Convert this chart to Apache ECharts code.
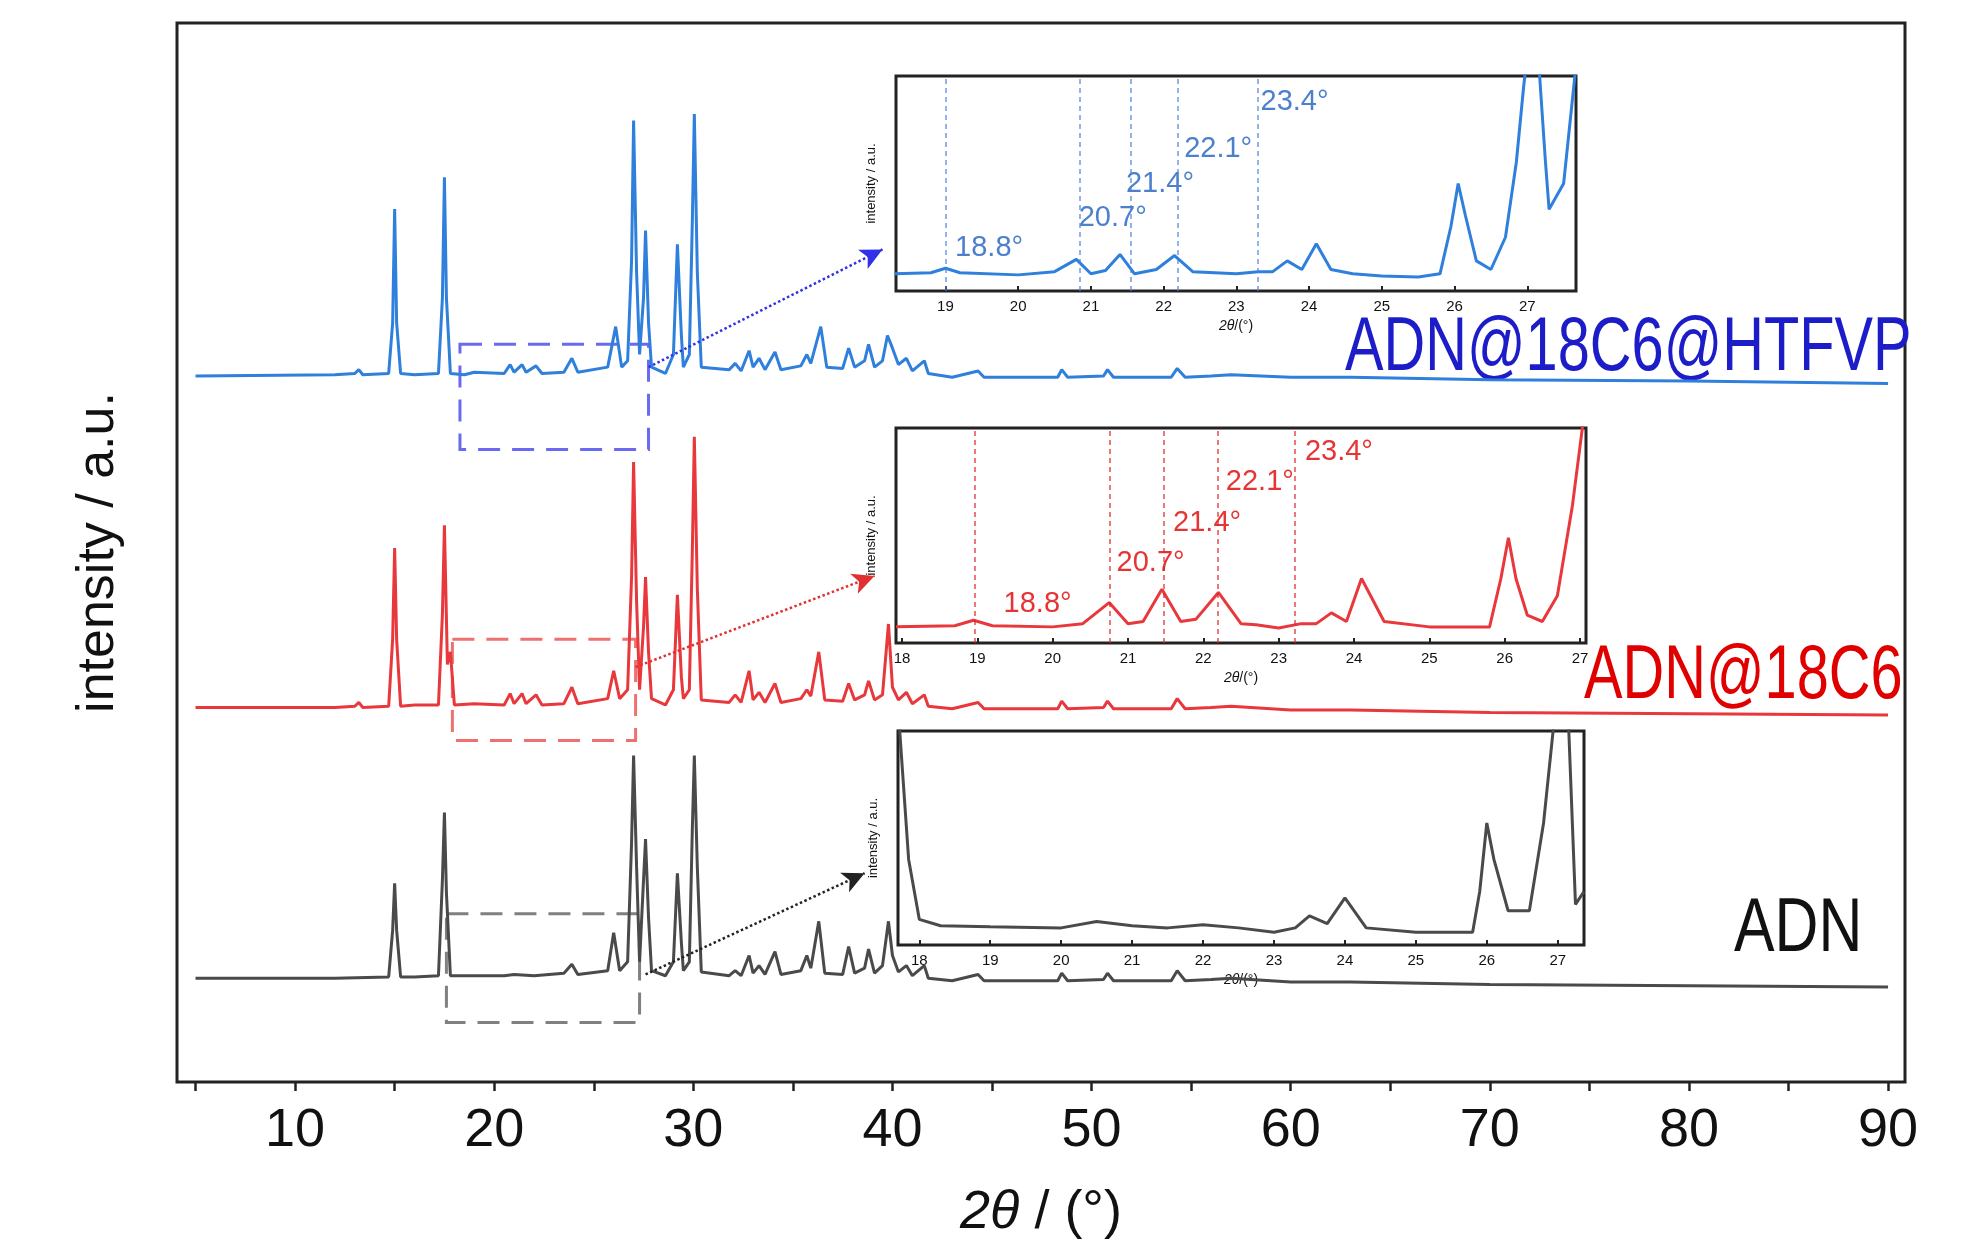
<!DOCTYPE html>
<html><head><meta charset="utf-8">
<script src="https://cdn.jsdelivr.net/npm/echarts@6/dist/echarts.min.js"></script>
<style>html,body{margin:0;padding:0;background:#fff}#c{width:1984px;height:1252px}</style>
</head><body><div id="c"></div>
<script>
const mainTicks = [10,20,30,40,50,60,70,80,90];
const mainMinor = [5,10,15,20,25,30,35,40,45,50,55,60,65,70,75,80,85,90];
const insetTicksA = [19,20,21,22,23,24,25,26,27];
const insetTicksB = [18,19,20,21,22,23,24,25,26,27];

const blue = [[5,558],[12,559],[13,560],[13.2,563],[13.4,559],[14.7,560],[14.9,600],[15.0,690],[15.1,600],[15.3,560],[16,559],[17.2,560],[17.4,620],[17.5,715],[17.6,620],[17.8,560],[18.5,559],[19,561],[20.5,560],[20.8,567],[21.0,561],[21.4,567],[21.6,561],[22.1,566],[22.4,560],[23.5,561],[23.9,572],[24.2,561],[25.7,565],[26.1,597],[26.4,565],[26.7,570],[26.9,650],[27.0,760],[27.15,640],[27.3,575],[27.5,620],[27.6,673],[27.75,600],[27.9,565],[28.6,560],[29.0,575],[29.2,662],[29.4,590],[29.5,565],[29.8,575],[29.95,680],[30.05,765],[30.2,640],[30.4,565],[31.8,563],[32.1,568],[32.4,562],[32.8,578],[33.0,565],[33.3,572],[33.6,563],[34.1,577],[34.4,563],[35.4,566],[35.7,575],[35.9,568],[36.4,597],[36.7,565],[37.5,564],[37.8,580],[38.1,565],[38.6,570],[38.8,583],[39.1,565],[39.5,570],[39.75,590],[40.0,580],[40.3,567],[40.7,572],[41,562],[41.6,570],[41.8,560],[43,557],[44.3,562],[44.6,557],[48.3,557],[48.5,563],[48.8,557],[50.6,558],[50.8,563],[51.1,557],[54,557],[54.3,564],[54.7,557],[56,558],[57,559],[60,557],[63,557],[70,555],[80,554],[90,552]];
const red = [[5,296],[12,296],[13,297],[13.2,300],[13.4,296],[14.7,297],[14.9,350],[15.0,422],[15.1,350],[15.3,297],[16,298],[17.2,298],[17.4,370],[17.5,440],[17.65,330],[17.8,340],[18.0,298],[19,299],[20.5,298],[20.8,307],[21.0,299],[21.4,307],[21.6,299],[22.1,306],[22.4,298],[23.5,299],[23.9,312],[24.2,299],[25.7,303],[26.0,325],[26.3,303],[26.7,310],[26.9,400],[27.0,490],[27.15,380],[27.3,310],[27.5,360],[27.6,399],[27.75,340],[27.9,303],[28.6,298],[29.0,310],[29.2,385],[29.4,320],[29.5,303],[29.8,310],[29.95,420],[30.05,510],[30.2,390],[30.4,302],[31.8,300],[32.1,306],[32.4,300],[32.8,325],[33.0,302],[33.3,308],[33.6,300],[34.1,315],[34.4,300],[35.4,303],[35.7,310],[35.9,305],[36.3,340],[36.6,302],[37.5,301],[37.8,315],[38.1,302],[38.6,306],[38.8,317],[39.1,302],[39.5,306],[39.8,362],[40.0,312],[40.3,302],[40.7,308],[41,299],[41.6,306],[41.8,297],[43,295],[44.3,300],[44.6,295],[48.3,295],[48.5,301],[48.8,295],[50.6,296],[50.8,301],[51.1,295],[54,295],[54.3,303],[54.7,295],[56,296],[57,297],[60,294],[63,294],[70,292],[80,291],[90,290]];
const black = [[5,82],[12,82],[14.7,83],[14.9,120],[15.0,157],[15.1,120],[15.3,83],[16,83],[17.2,84],[17.4,160],[17.5,213],[17.6,150],[17.8,84],[19,84],[20.5,84],[21,85],[22,84],[23.5,86],[23.9,93],[24.2,85],[25.7,88],[26.0,118],[26.3,88],[26.7,95],[26.9,190],[27.0,258],[27.15,170],[27.3,95],[27.5,160],[27.6,192],[27.75,130],[27.9,88],[28.6,84],[29.0,95],[29.2,165],[29.4,110],[29.5,88],[29.8,95],[29.95,200],[30.05,258],[30.2,170],[30.4,87],[31.8,84],[32.1,88],[32.4,84],[32.8,100],[33.0,86],[33.3,92],[33.6,85],[34.1,103],[34.4,85],[35.4,88],[35.7,100],[35.9,90],[36.3,127],[36.6,86],[37.5,85],[37.8,107],[38.1,86],[38.6,90],[38.8,105],[39.1,86],[39.5,92],[39.8,127],[40.0,100],[40.3,87],[40.7,92],[41,84],[41.6,92],[41.8,82],[43,80],[44.3,85],[44.6,80],[48.3,80],[48.5,86],[48.8,80],[50.6,81],[50.8,86],[51.1,80],[54,80],[54.3,88],[54.7,80],[56,81],[57,82],[60,79],[63,79],[70,77],[80,76],[90,75]];

const insetBlue = [[18.3,8],[18.8,8.5],[19.0,10.6],[19.2,8.5],[20,7.5],[20.5,9],[20.8,14.7],[21.0,8],[21.2,9.5],[21.4,17],[21.6,8],[21.9,10],[22.15,16.5],[22.4,9],[22.7,8.5],[23.0,8],[23.3,9],[23.5,9],[23.7,14],[23.9,10],[24.1,22],[24.3,10],[24.6,8],[25,7],[25.5,6.5],[25.8,8],[25.95,30],[26.05,50],[26.15,35],[26.3,14],[26.5,10],[26.7,25],[26.85,60],[26.95,95],[27.0,110],[27.15,110],[27.25,60],[27.3,38],[27.5,50],[27.67,105]];
const insetRed = [[17.92,7.6],[18.7,8],[18.95,10.6],[19.2,8],[20,7.5],[20.4,9],[20.75,18.8],[21.0,9],[21.2,10],[21.45,25],[21.7,10],[21.9,11],[22.2,23.5],[22.5,9],[22.7,8.5],[23.0,7],[23.3,9],[23.5,9],[23.7,14],[23.9,10],[24.1,30],[24.4,10],[25,7.5],[25.8,7.5],[25.95,30],[26.05,49],[26.15,30],[26.3,13],[26.5,10],[26.7,22],[26.9,64],[27.05,105]];
const insetBlack = [[17.72,102],[17.85,40],[18.0,12],[18.3,9],[19,8.5],[20,8],[20.5,11],[21,9],[21.5,8],[22,9.5],[22.5,8],[23,6],[23.3,8],[23.5,13.6],[23.75,10],[24.0,22],[24.3,8],[25,6],[25.8,6],[25.9,25],[26.0,57],[26.1,40],[26.3,16],[26.6,16],[26.8,57],[26.95,105],[27.15,105],[27.25,19],[27.37,25]];

const vlinesBlue = [19.0,20.85,21.55,22.2,23.3];
const vlinesRed = [18.96,20.76,21.48,22.19,23.21];
const peakLabels = ['18.8°','20.7°','21.4°','22.1°','23.4°'];
const labelPosBlue = [[19.6,20],[21.3,34],[21.95,50],[22.75,66],[23.8,88]];
const labelPosRed = [[19.8,18],[21.3,37],[22.05,56],[22.75,75],[23.8,89]];

const F = '"Liberation Sans",Arial,sans-serif';
const cB='#2f7fdc', cR='#e8383c', cK='#4a4a4a';

const chart = echarts.init(document.getElementById('c'));

function insetAxes(idx,min,max,ticks){
  return {
    x:{type:'value',gridIndex:idx,min:min,max:max,
      axisLine:{show:false},splitLine:{show:false},
      axisTick:{show:true,inside:true,length:5,customValues:ticks,lineStyle:{color:'#222',width:2}},
      axisLabel:{customValues:ticks,fontFamily:F,fontSize:15,color:'#111',margin:8},
      name:'{i|2θ}/(°)',nameLocation:'middle',nameGap:28,
      nameTextStyle:{fontFamily:F,fontSize:14,color:'#111',rich:{i:{fontStyle:'italic',fontFamily:F,fontSize:14}}}},
    y:{type:'value',gridIndex:idx,min:0,max:100,axisLine:{show:false},axisTick:{show:false},axisLabel:{show:false},splitLine:{show:false},
      name:'intensity / a.u.',nameLocation:'middle',nameGap:18,nameTextStyle:{fontFamily:F,fontSize:13,color:'#111'}}
  };
}
const a1=insetAxes(1,18.32,27.67,insetTicksA), a2=insetAxes(2,17.92,27.08,insetTicksB), a3=insetAxes(3,17.7,27.37,insetTicksB);

function vl(xs,color){return {silent:true,symbol:'none',label:{show:false},lineStyle:{type:[5,4],width:1.5,color:color,opacity:0.8},data:xs.map(x=>({xAxis:x}))};}
function lab(pos,color,xi,yi){return {type:'scatter',xAxisIndex:xi,yAxisIndex:yi,symbolSize:0,silent:true,
  data:pos.map((p,i)=>({value:p,name:peakLabels[i]})),
  label:{show:true,position:'inside',formatter:'{b}',fontFamily:F,fontSize:29,color:color}};}

function rect(x1,y1,x2,y2,color){return {silent:true,itemStyle:{color:'rgba(0,0,0,0)',borderColor:color,borderType:[22,12],borderWidth:3},data:[[{coord:[x1,y1]},{coord:[x2,y2]}]]};}
function arrow(x1,y1,x2,y2,color){return {silent:true,symbol:['none','arrow'],symbolSize:[16,22],label:{show:false},lineStyle:{type:'dotted',width:2.5,color:color},data:[[{coord:[x1,y1]},{coord:[x2,y2]}]]};}

const option = {
  backgroundColor:'#fff',
  animation:false,
  grid:[
    {left:177,right:79,top:23,bottom:170,show:true,borderColor:'#222',borderWidth:3,backgroundColor:'transparent'},
    {left:896,top:76,width:680,height:215,show:true,borderColor:'#222',borderWidth:3,backgroundColor:'#fff'},
    {left:896,top:428,width:690,height:215,show:true,borderColor:'#222',borderWidth:3,backgroundColor:'#fff'},
    {left:898,top:731,width:686,height:214,show:true,borderColor:'#222',borderWidth:3,backgroundColor:'#fff'}
  ],
  xAxis:[
    {type:'value',gridIndex:0,min:4.07,max:90.85,axisLine:{show:false},splitLine:{show:false},
     axisTick:{show:true,length:9,customValues:mainMinor,lineStyle:{color:'#222',width:2.5}},
     axisLabel:{customValues:mainTicks,fontFamily:F,fontSize:54,color:'#111',margin:22},
     name:'{i|2θ} / (°)',nameLocation:'middle',nameGap:104,
     nameTextStyle:{fontFamily:F,fontSize:54,color:'#111',rich:{i:{fontStyle:'italic',fontFamily:F,fontSize:54}}}},
    a1.x,a2.x,a3.x
  ],
  yAxis:[
    {type:'value',gridIndex:0,min:0,max:837,axisLine:{show:false},axisTick:{show:false},axisLabel:{show:false},splitLine:{show:false},
     name:'intensity / a.u.',nameLocation:'middle',nameGap:52,nameTextStyle:{fontFamily:F,fontSize:52,color:'#111'}},
    a1.y,a2.y,a3.y
  ],
  series:[
    {type:'line',xAxisIndex:0,yAxisIndex:0,data:blue,showSymbol:false,lineStyle:{color:cB,width:3},z:3,
     markArea:rect(18.28,583,27.75,500,'#6a6af0'),markLine:arrow(27.75,565,39.5,658,'#3030e8')},
    {type:'line',xAxisIndex:0,yAxisIndex:0,data:red,showSymbol:false,lineStyle:{color:cR,width:3},z:3,
     markArea:rect(17.9,350,27.1,270,'#f07070'),markLine:arrow(27.1,328,39.1,400,'#e03030')},
    {type:'line',xAxisIndex:0,yAxisIndex:0,data:black,showSymbol:false,lineStyle:{color:cK,width:3},z:3,
     markArea:rect(17.6,133,27.3,47,'#808080'),markLine:arrow(27.6,85,38.6,165,'#222')},
    {type:'line',xAxisIndex:1,yAxisIndex:1,data:insetBlue,showSymbol:false,clip:true,lineStyle:{color:cB,width:3},markLine:vl(vlinesBlue,'#4a80d8')},
    {type:'line',xAxisIndex:2,yAxisIndex:2,data:insetRed,showSymbol:false,clip:true,lineStyle:{color:cR,width:3},markLine:vl(vlinesRed,'#e02020')},
    {type:'line',xAxisIndex:3,yAxisIndex:3,data:insetBlack,showSymbol:false,clip:true,lineStyle:{color:cK,width:3}},
    lab(labelPosBlue,'#1f5fbf',1,1),
    lab(labelPosRed,'#e00000',2,2)
  ],
  graphic:[
    {type:'text',x:1345,y:349,scaleX:0.76,style:{text:'ADN@18C6@HTFVP',fontFamily:F,fontSize:76,fill:'#1c1cc8',textVerticalAlign:'middle'}},
    {type:'text',x:1584,y:677,scaleX:0.76,style:{text:'ADN@18C6',fontFamily:F,fontSize:76,fill:'#e00000',textVerticalAlign:'middle'}},
    {type:'text',x:1734,y:930,scaleX:0.8,style:{text:'ADN',fontFamily:F,fontSize:76,fill:'#111',textVerticalAlign:'middle'}}
  ]
};
chart.setOption(option);
</script></body></html>
